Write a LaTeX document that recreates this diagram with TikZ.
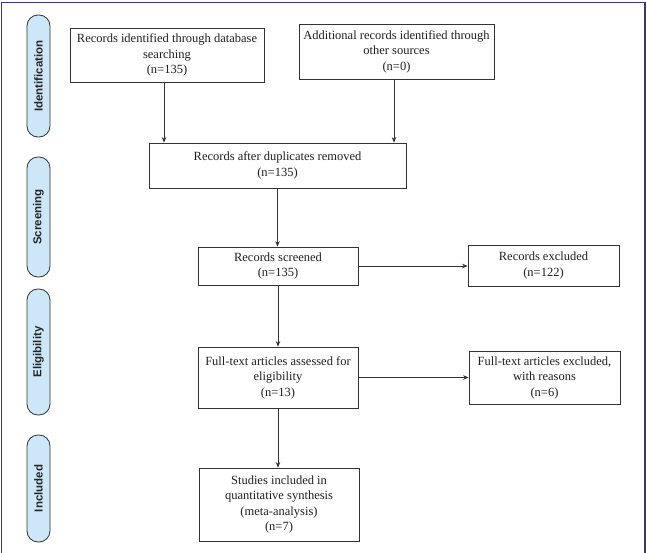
\documentclass[tikz,border=0pt]{standalone}
\usepackage{fontspec}
\setmainfont{Liberation Serif}
\newfontfamily\pillfont{Liberation Sans}
\usetikzlibrary{arrows.meta}
\definecolor{pillblue}{HTML}{CDE7F8}
\definecolor{framecol}{HTML}{3E3878}
\definecolor{boxgray}{HTML}{333333}
\begin{document}
\begin{tikzpicture}[x=1pt,y=-1pt,
  box/.style={draw=boxgray, line width=0.8pt, align=center, inner sep=0pt,
    font=\fontsize{12.5}{15.5}\selectfont, text=black!88},
  pill/.style={draw=black!80, fill=pillblue, rounded corners=11pt, line width=0.8pt,
    inner sep=0pt, rotate=90, minimum height=23pt,
    font=\pillfont\bfseries\fontsize{11.5}{13}\selectfont, text=black!85},
  arr/.style={draw=black!80, line width=0.7pt, -{Stealth[length=5.5pt,width=4.5pt]}}]
\useasboundingbox[fill=white] (0,0) rectangle (647,553);
% frame
\draw[framecol, line width=1.3pt] (1.7,553) -- (1.7,2.5) -- (645,2.5) -- (645,553);
% phase labels
\node[pill, minimum width=122pt] (pid) at (38.5,76) {Identification};
\node[pill, minimum width=120pt] (psc) at (38.5,217) {Screening};
\node[pill, minimum width=126pt] (pel) at (38.5,352) {Eligibility};
\node[pill, minimum width=107pt] (pin) at (38.5,488.5) {Included};
% boxes
\node[box, minimum width=194pt, minimum height=54pt] (b1) at (167,55)
  {Records identified through database\\searching\\(n=135)};
\node[box, minimum width=195pt, minimum height=55pt] (b2) at (396.5,51.5)
  {Additional records identified through\\other sources\\(n=0)};
\node[box, minimum width=257pt, minimum height=45pt] (b3) at (277.5,165.5)
  {Records after duplicates removed\\(n=135)};
\node[box, minimum width=160pt, minimum height=38pt] (b4) at (278,266)
  {Records screened\\(n=135)};
\node[box, minimum width=151pt, minimum height=41pt] (b5) at (543.5,265.5)
  {Records excluded\\(n=122)};
\node[box, minimum width=160pt, minimum height=61pt] (b6) at (278,377.5)
  {Full-text articles assessed for\\eligibility\\(n=13)};
\node[box, minimum width=151pt, minimum height=53pt] (b7) at (544.5,377.5)
  {Full-text articles excluded,\\with reasons\\(n=6)};
\node[box, minimum width=160pt, minimum height=73pt] (b8) at (279,504.5)
  {Studies included in\\quantitative synthesis\\(meta-analysis)\\(n=7)};
% connectors
\draw[arr] ([xshift=-3pt]b1.south) -- ([xshift=-3pt]b1.south |- b3.north);
\draw[arr] ([xshift=-2.5pt]b2.south) -- ([xshift=-2.5pt]b2.south |- b3.north);
\draw[arr] (b3.south) -- (b3.south |- b4.north);
\draw[arr] (b4.east) -- (b4.east -| b5.west);
\draw[arr] (b4.south) -- (b4.south |- b6.north);
\draw[arr] (b6.east) -- (b6.east -| b7.west);
\draw[arr] (b6.south) -- (b6.south |- b8.north);
\end{tikzpicture}
\end{document}
